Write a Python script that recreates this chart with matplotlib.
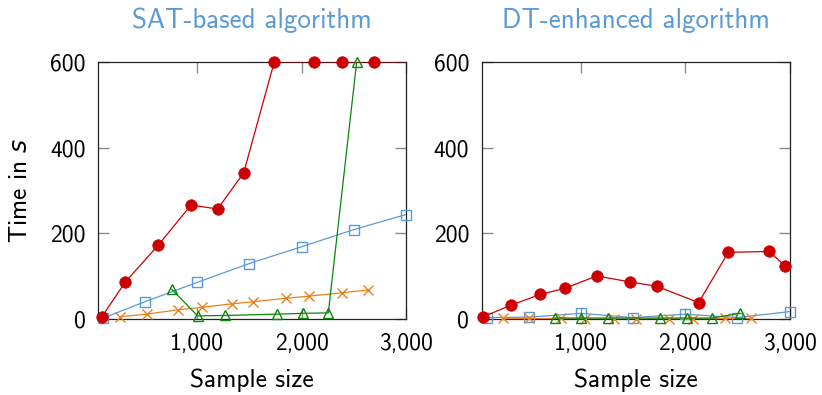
import matplotlib
matplotlib.use("Agg")
import matplotlib.pyplot as plt

plt.rcParams["font.family"] = ["cmss10", "DejaVu Sans"]
plt.rcParams["mathtext.fontset"] = "custom"
plt.rcParams["mathtext.rm"] = "cmss10"
plt.rcParams["mathtext.it"] = "DejaVu Sans:italic"
plt.rcParams["axes.unicode_minus"] = False

# ---- SAT-based algorithm ----
sat_blue_x = [100, 500, 1000, 1500, 2000, 2500, 3000]
sat_blue_y = [3, 41, 86, 130, 169, 209, 244]

sat_orange_x = [260, 515, 812, 1048, 1330, 1537, 1850, 2073, 2389, 2632]
sat_orange_y = [6, 12, 22, 28, 36, 41, 49, 54, 62, 68]

sat_green_x = [756, 1005, 1266, 1762, 2017, 2256, 2528]
sat_green_y = [70, 8, 9, 12, 14, 15, 600]

sat_red_x = [85, 309, 628, 941, 1196, 1445, 1739, 2122, 2390, 2691, 3100]
sat_red_y = [5, 86, 173, 266, 257, 341, 600, 600, 600, 600, 600]

# ---- DT-enhanced algorithm ----
dt_blue_x = [100, 500, 1000, 1500, 2000, 2500, 3000]
dt_blue_y = [4, 5, 14, 4, 12, 4, 18]

dt_orange_x = [257, 506, 810, 1040, 1320, 1525, 1844, 2071, 2381, 2630]
dt_orange_y = [2, 2, 2, 1, 1, 1, 1, 1, 2, 2]

dt_green_x = [755, 1001, 1260, 1755, 2013, 2258, 2523]
dt_green_y = [3, 3, 3, 3, 3, 3, 14]

dt_red_x = [65, 331, 611, 845, 1152, 1473, 1726, 2128, 2412, 2802, 2955]
dt_red_y = [6, 33, 58, 72, 101, 87, 77, 39, 156, 158, 125]

x_ticks = [1000, 2000, 3000]
x_tick_labels = ["1,000", "2,000", "3,000"]
y_ticks = [0, 200, 400, 600]
y_tick_labels = ["0", "200", "400", "600"]

titles = ["SAT-based algorithm", "DT-enhanced algorithm"]

BLUE = "#5b9bd5"
ORANGE = "#f07f1a"
GREEN = "#0a870a"
RED = "#cc0000"
TITLE_COLOR = "#5b9bd5"

XMIN, XMAX = 50, 3000
YMIN, YMAX = 0, 600

fig = plt.figure(figsize=(8.22, 3.95), dpi=100)
ax1 = fig.add_axes([0.1192, 0.1916, 0.3747, 0.6522])
ax2 = fig.add_axes([0.586, 0.1916, 0.3747, 0.6522])

panels = [
    (ax1, (sat_blue_x, sat_blue_y), (sat_orange_x, sat_orange_y),
     (sat_green_x, sat_green_y), (sat_red_x, sat_red_y)),
    (ax2, (dt_blue_x, dt_blue_y), (dt_orange_x, dt_orange_y),
     (dt_green_x, dt_green_y), (dt_red_x, dt_red_y)),
]


def draw_series(ax, xs, ys, color, marker, ms, mfc, mew, z):
    # line clipped to the axes, markers only for points inside the x range
    ax.plot(xs, ys, color=color, lw=0.9, zorder=z, clip_on=True)
    px = [x for x in xs if x <= XMAX]
    py = [y for x, y in zip(xs, ys) if x <= XMAX]
    ax.plot(px, py, linestyle="none", marker=marker, ms=ms, mfc=mfc,
            mec=color, mew=mew, zorder=z + 0.5, clip_on=False)


for i, (ax, blue, orange, green, red) in enumerate(panels):
    draw_series(ax, *blue, BLUE, "s", 7.5, "none", 1.0, 3)
    draw_series(ax, *orange, ORANGE, "x", 6.5, ORANGE, 1.0, 4)
    draw_series(ax, *green, GREEN, "^", 7.5, "none", 1.0, 5)
    draw_series(ax, *red, RED, "o", 8.3, RED, 0.5, 6)

    ax.set_xlim(XMIN, XMAX)
    ax.set_ylim(YMIN, YMAX)
    ax.set_xticks(x_ticks)
    ax.set_xticklabels(x_tick_labels)
    ax.set_yticks(y_ticks)
    ax.set_yticklabels(y_tick_labels)
    ax.tick_params(direction="in", length=8, width=1.0, color="#8c8c8c",
                   top=True, right=True, labelsize=17, labelcolor="black",
                   pad=10)
    ax.tick_params(axis="y", pad=9)
    for sp in ax.spines.values():
        sp.set_color("#222222")
        sp.set_linewidth(0.9)
    ax.set_xlabel("Sample size", fontsize=18.3, labelpad=9.5)
    ax.set_title(titles[i], fontsize=19.5, color=TITLE_COLOR, pad=24)

ax1.set_ylabel(r"Time in $s$", fontsize=18.3, labelpad=13)

fig.savefig("out.png", dpi=100)
